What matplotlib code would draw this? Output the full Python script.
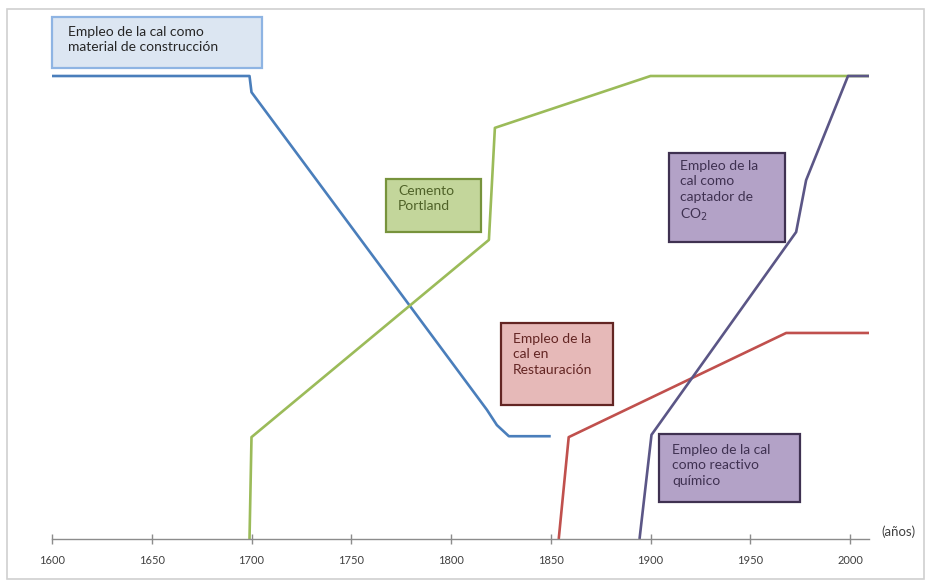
import matplotlib
matplotlib.use("Agg")
import matplotlib.pyplot as plt
from matplotlib.patches import Rectangle

plt.rcParams['font.family'] = ['Lato', 'DejaVu Sans']

# Relative importance (0-100) of each use of lime over time
years_construccion = [1600, 1699, 1700, 1818, 1823, 1829, 1850]
vals_construccion = [100, 100, 96.5, 27.9, 24.6, 22.2, 22.2]

years_portland = [1699, 1700, 1819, 1822, 1900, 2010]
vals_portland = [0, 22, 64.6, 88.8, 100, 100]

years_restauracion = [1854, 1859, 1968, 2010]
vals_restauracion = [0, 22, 44.5, 44.5]

years_co2 = [1894.5, 1900.5, 1973, 1978, 1999, 2010]
vals_co2 = [0, 22.5, 66.3, 77.5, 100, 100]

xticks = [1600, 1650, 1700, 1750, 1800, 1850, 1900, 1950, 2000]

W, H = 926, 582
fig = plt.figure(figsize=(W / 100, H / 100), dpi=100)
fig.patch.set_facecolor('white')

# outer frame
fig.add_artist(Rectangle((7 / W, 3 / H), (W - 9) / W, (H - 12) / H,
                         transform=fig.transFigure, fill=False,
                         edgecolor='#d0d0d0', lw=1.2))

x0, x1 = 52, 869
y_base, y_top = 539, 76
ymax = 115
ax = fig.add_axes([x0 / W, (H - y_base) / H, (x1 - x0) / W,
                   (y_base - y_top) * ymax / 100 / H])
ax.set_xlim(1600, 1600 + (x1 - x0) / 1.995)
ax.set_ylim(0, ymax)
ax.patch.set_alpha(0)

for s in ['top', 'right', 'left']:
    ax.spines[s].set_visible(False)
ax.spines['bottom'].set_color('#8c8c8c')
ax.spines['bottom'].set_linewidth(1.0)
ax.set_yticks([])
ax.set_xticks(xticks)
ax.set_xticklabels([str(t) for t in xticks])
ax.tick_params(axis='x', direction='inout', length=7, width=1.0,
               color='#8c8c8c', labelsize=8, labelcolor='#404040', pad=8)

lw = 1.9
for xs, ys, c in [(years_construccion, vals_construccion, '#4A7EBB'),
                  (years_portland, vals_portland, '#9BBB59'),
                  (years_restauracion, vals_restauracion, '#C0504D'),
                  (years_co2, vals_co2, '#5B5686')]:
    ax.plot(xs, ys, color=c, lw=lw, solid_joinstyle='round',
            solid_capstyle='butt')

fig.text(881 / W, (H - 532) / H, '(años)', fontsize=9.5, color='#404040',
         ha='left', va='center')


def box(px0, py0, px1, py1, text, face, edge, tcolor, tx_off, first_y):
    fig.add_artist(Rectangle((px0 / W, (H - py1) / H), (px1 - px0) / W,
                             (py1 - py0) / H, transform=fig.transFigure,
                             facecolor=face, edgecolor=edge, lw=1.6))
    fig.text((px0 + tx_off) / W, (H - (py0 + first_y - 9)) / H, text,
             fontsize=10, color=tcolor, ha='left', va='top',
             linespacing=1.33)


box(52, 17, 262, 68, 'Empleo de la cal como\nmaterial de construcción',
    '#DCE6F2', '#8EB4E3', '#262626', 16, 18)
box(386, 179, 481, 232, 'Cemento\nPortland',
    '#C3D69B', '#77933C', '#4F6228', 12, 15)
box(669, 153, 785, 242, 'Empleo de la\ncal como\ncaptador de\nCO$_2$',
    '#B3A2C7', '#3F3151', '#3F3151', 11, 16)
box(501, 323, 613, 405, 'Empleo de la\ncal en\nRestauración',
    '#E6B9B8', '#632523', '#632523', 12, 19)
box(659, 434, 800, 502, 'Empleo de la cal\ncomo reactivo\nquímico',
    '#B3A2C7', '#3F3151', '#3F3151', 13, 19)

fig.savefig('out.png', dpi=100, facecolor='white')
